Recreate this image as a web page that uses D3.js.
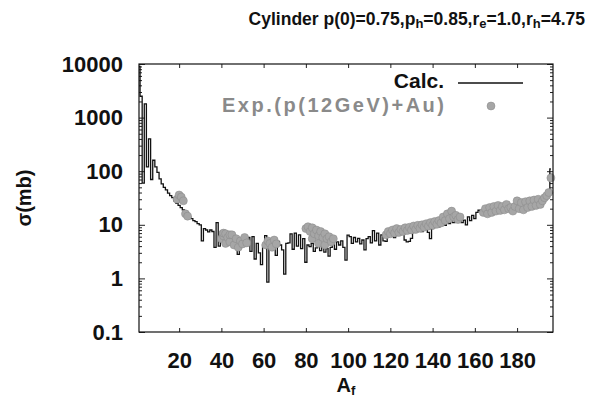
<!DOCTYPE html>
<html>
<head>
<meta charset="utf-8">
<script src="https://cdn.jsdelivr.net/npm/d3@7"></script>
<style>
  body { margin: 0; background: #fff; }
  svg text { font-family: "Liberation Sans", Arial, sans-serif; font-weight: bold; }
</style>
</head>
<body>
<div id="chart"></div>
<script>
// calculated cross section, A_f = 1 .. 196
const calcStartA = 1;
const calcV = [
  9000, 2500, 60, 1800, 120, 400, 70, 160, 120, 95,
  72, 58, 50, 45, 39, 35, 32, 28, 25, 23,
  21, 19, 17, 15.5, 14, 13, 12, 11.5, 10.5, 10,
  5, 8.5, 8, 7.4, 8, 7.5, 3.8, 11, 4, 7.5,
  7, 6.5, 7.2, 5.5, 6.8, 5, 6, 2.8, 5.5, 4.8,
  6.5, 5, 5.8, 3.2, 6, 2.3, 4.5, 3, 1.8, 4.2,
  6.3, 0.85, 5.5, 3.5, 4.8, 2.7, 4.9, 4.2, 3.4, 1.2,
  4.5, 4.6, 6.8, 3.5, 7, 4, 6.5, 3.6, 5.5, 2,
  4.2, 3.9, 4.5, 3.2, 3.7, 4.4, 3.3, 4, 3.1, 3.6,
  2.6, 3.8, 4.5, 3.5, 4.8, 4.2, 5, 3.8, 2.2, 6.4,
  6, 4.5, 5.8, 4.8, 5.6, 4.4, 5.2, 3.4, 5.5, 6,
  4.6, 7.8, 5, 7, 4.2, 6.5, 5, 4.9, 6, 6.5,
  6.2, 5.8, 7, 6.5, 7.2, 6.8, 5.2, 4.8, 4.9, 5.6,
  7.5, 7.8, 8, 8.2, 7.5, 8.5, 8.8, 7.2, 5.5, 8.5,
  9, 9.5, 9.2, 10, 10.5, 9.8, 11, 10.5, 11.5, 11,
  12, 11.5, 12.5, 11, 12.2, 10, 14, 12, 15, 13,
  17, 18.7, 17.5, 16.5, 17, 18, 17.5, 18.5, 19, 18.5,
  20, 19.5, 20.5, 21, 20, 22, 21.5, 23, 22, 24,
  23, 25, 24, 26, 25, 27, 26, 28, 27, 29,
  30, 31, 29, 40, 45, 110
];

// experimental points p(12GeV)+Au
const expA = [
  19, 20, 21, 22, 23, 24,
  40, 41, 41, 42, 42, 43, 44, 44, 45, 46, 47, 48, 49, 50, 51, 52,
  61, 62, 63, 64, 65, 66,
  80, 81, 82, 83, 83, 84, 85, 86, 86, 87, 88, 89, 89, 90, 91, 92, 93,
  118, 119, 120, 121, 122, 123, 124, 125, 126, 127, 128, 129, 130, 131, 132, 133, 134, 135,
  136, 137, 138, 139, 140, 141, 142, 143, 144, 145, 146, 147, 148, 149, 150, 151, 152, 153,
  164, 165, 166, 167, 168, 169, 170, 171, 172, 173, 174, 175, 176, 177, 178, 179, 180,
  181, 182, 183, 184, 185, 186, 187, 188, 189, 190, 191, 192, 193, 194, 195, 196
];
const expV = [
  30, 36, 33, 28, 16, 14.5,
  5.5, 6.2, 7, 4.5, 6.8, 5.8, 4.8, 6.5, 6.5, 4.2, 5.5, 3.8, 5, 4.4, 5.8, 4.6,
  4.2, 5, 4.5, 3.8, 5.2, 4.4,
  8.5, 9.2, 7.5, 8.8, 5.5, 6.8, 8, 6.2, 4.5, 7.5, 5.8, 6.8, 4.2, 5.5, 6, 4.8, 5.5,
  6.5, 7.5, 6.8, 8, 7, 8.5, 7.2, 8.2, 7.5, 8.8, 7.8, 9, 8, 9.5, 8.2, 9.8, 8.6, 10,
  9, 10.5, 9.4, 11, 9.8, 11.5, 10.2, 12, 10.8, 14, 12, 16, 13, 18, 14, 15, 12.5, 14,
  17, 20, 16, 21, 17, 22, 18, 23, 18.5, 22, 19, 24, 20, 21, 18, 22, 28,
  20, 26, 19, 27, 21, 28, 22, 29, 23, 30, 24, 28, 32, 35, 40, 75
];

const xTicks = [20, 40, 60, 80, 100, 120, 140, 160, 180];
const yTicks = [0.1, 1, 10, 100, 1000, 10000];
const yTickLabels = ['0.1', '1', '10', '100', '1000', '10000'];

const W = 589, H = 403;
const margin = {top: 64, right: 36, bottom: 71, left: 139};
const width = W - margin.left - margin.right,
      height = H - margin.top - margin.bottom;

const svg = d3.select('#chart').append('svg')
  .attr('width', W).attr('height', H);

const chart = svg.append('g')
  .attr('transform', 'translate(' + margin.left + ',' + margin.top + ')');

const x = d3.scaleLinear().domain([1, 197]).range([0, width]);
const y = d3.scaleLog().domain([0.1, 10000]).range([height, 0]);

// minor log ticks
let minor = [];
yTicks.slice(0, -1).forEach(function(d) {
  for (let k = 2; k < 10; k++) minor.push(d * k);
});

// axes (ticks inward)
chart.append('g')
  .attr('transform', 'translate(0,' + height + ')')
  .call(d3.axisBottom(x).tickValues(xTicks).tickSize(-4).tickFormat(function(d) { return d; }).tickPadding(20))
  .call(function(g) {
    g.select('.domain').remove();
    g.selectAll('text').attr('font-size', 22).attr('fill', '#111').attr('dy', '0.71em');
  });
chart.append('g')
  .call(d3.axisTop(x).tickValues(xTicks).tickSize(-4).tickFormat(''))
  .call(function(g) { g.select('.domain').remove(); });

chart.append('g')
  .call(d3.axisLeft(y).tickValues(yTicks).tickSize(-6).tickPadding(16)
    .tickFormat(function(d, i) { return yTickLabels[i]; }))
  .call(function(g) {
    g.select('.domain').remove();
    g.selectAll('text').attr('font-size', 22).attr('fill', '#111');
  });
chart.append('g')
  .call(d3.axisLeft(y).tickValues(minor).tickSize(-3).tickFormat(''))
  .call(function(g) { g.select('.domain').remove(); });
chart.append('g')
  .attr('transform', 'translate(' + width + ',0)')
  .call(d3.axisRight(y).tickValues(yTicks).tickSize(-6).tickFormat(''))
  .call(function(g) { g.select('.domain').remove(); });
chart.append('g')
  .attr('transform', 'translate(' + width + ',0)')
  .call(d3.axisRight(y).tickValues(minor).tickSize(-3).tickFormat(''))
  .call(function(g) { g.select('.domain').remove(); });

chart.selectAll('.tick line').attr('stroke', '#222');

// calc line
const calcData = calcV.map(function(v, i) { return {a: calcStartA + i, v: v}; });
chart.append('path')
  .datum(calcData)
  .attr('fill', 'none')
  .attr('stroke', '#111')
  .attr('stroke-width', 1.3)
  .attr('d', d3.line().curve(d3.curveStep)
    .x(function(d) { return x(d.a); })
    .y(function(d) { return y(d.v); }));

// experimental points
const expData = expA.map(function(a, i) { return {a: a, v: expV[i]}; });
chart.append('g').selectAll('circle')
  .data(expData)
  .enter().append('circle')
  .attr('cx', function(d) { return x(d.a); })
  .attr('cy', function(d) { return y(d.v); })
  .attr('r', 4)
  .attr('fill', '#a6a6a6')
  .attr('stroke', '#888')
  .attr('stroke-width', 0.5);

// frame
chart.append('rect')
  .attr('width', width).attr('height', height)
  .attr('fill', 'none').attr('stroke', '#111').attr('stroke-width', 1.2);

// legend
const lg = chart.append('g');
lg.append('text').attr('x', 305).attr('y', 24).attr('text-anchor', 'end')
  .attr('font-size', 21).attr('fill', '#111').text('Calc.');
lg.append('line').attr('x1', 319).attr('x2', 384).attr('y1', 19).attr('y2', 19)
  .attr('stroke', '#111').attr('stroke-width', 1.3);
lg.append('text').attr('x', 305).attr('y', 48).attr('text-anchor', 'end')
  .attr('font-size', 20).attr('font-weight', 'normal').attr('fill', '#8a8a8a')
  .attr('textLength', 222).attr('lengthAdjust', 'spacing')
  .text('Exp.(p(12GeV)+Au)');
lg.append('circle').attr('cx', 352).attr('cy', 42).attr('r', 4)
  .attr('fill', '#a6a6a6').attr('stroke', '#888').attr('stroke-width', 0.5);

// title
const title = svg.append('text').attr('x', 585).attr('y', 25)
  .attr('text-anchor', 'end').attr('font-size', 17.5).attr('fill', '#111');
const parts = [['Cylinder p(0)=0.75,p', 0], ['h', 1], ['=0.85,r', 0], ['e', 1], ['=1.0,r', 0], ['h', 1], ['=4.75', 0]];
parts.forEach(function(p) {
  title.append('tspan')
    .attr('font-size', p[1] ? 13 : 17.5)
    .attr('baseline-shift', p[1] ? '-25%' : null)
    .text(p[0]);
});

// axis titles
const xl = svg.append('text').attr('x', margin.left + width / 2).attr('y', 392)
  .attr('text-anchor', 'middle').attr('font-size', 20).attr('fill', '#111');
xl.append('tspan').text('A');
xl.append('tspan').attr('font-size', 13).attr('baseline-shift', '-25%').text('f');

svg.append('text')
  .attr('transform', 'translate(31,' + (margin.top + height / 2) + ') rotate(-90)')
  .attr('text-anchor', 'middle').attr('font-size', 20).attr('fill', '#111')
  .text('σ(mb)');
</script>
</body>
</html>
